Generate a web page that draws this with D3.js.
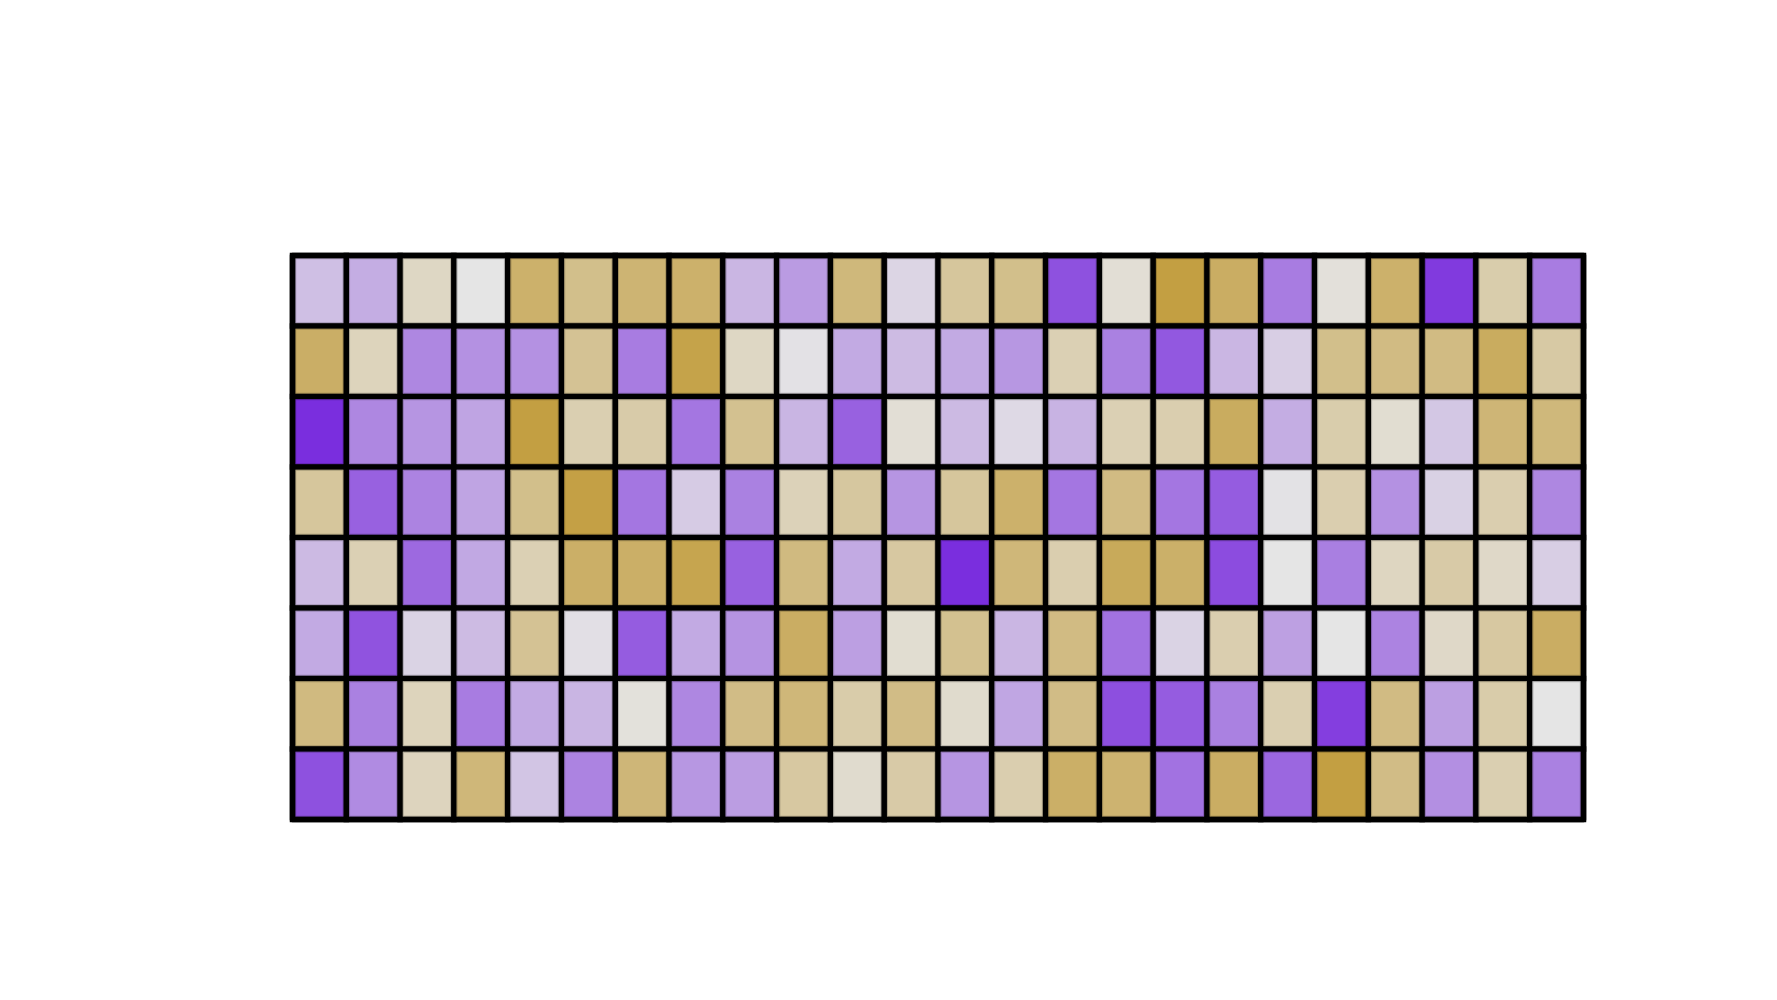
<!DOCTYPE html>
<html>
<head>
<meta charset="utf-8">
<script src="https://cdn.jsdelivr.net/npm/d3@7"></script>
<style>
    html, body { margin: 0; padding: 0; background: #fff; }
    svg { display: block; }
</style>
</head>
<body>
<script>
var columns = d3.range(24),
    rows = d3.range(8);

// one array per row, -1 = deep purple, 0 = neutral grey, +1 = deep gold
var row0 = [-0.30, -0.40, 0.20, 0.00, 0.75, 0.55, 0.70, 0.75, -0.35, -0.50, 0.65, -0.15, 0.45, 0.55, -0.85, 0.10, 1.00, 0.80, -0.65, 0.07, 0.75, -0.95, 0.35, -0.65];
var row1 = [0.78, 0.25, -0.60, -0.55, -0.55, 0.50, -0.65, 0.95, 0.20, -0.05, -0.42, -0.32, -0.42, -0.52, 0.30, -0.63, -0.82, -0.35, -0.20, 0.55, 0.60, 0.60, 0.82, 0.40];
var row2 = [-1.00, -0.60, -0.53, -0.45, 1.00, 0.32, 0.37, -0.68, 0.52, -0.36, -0.78, 0.10, -0.33, -0.12, -0.37, 0.30, 0.33, 0.82, -0.40, 0.35, 0.12, -0.25, 0.68, 0.65];
var row3 = [0.45, -0.78, -0.62, -0.45, 0.55, 0.98, -0.68, -0.22, -0.63, 0.27, 0.43, -0.53, 0.45, 0.75, -0.68, 0.60, -0.68, -0.80, -0.04, 0.33, -0.55, -0.18, 0.33, -0.60];
var row4 = [-0.33, 0.30, -0.74, -0.43, 0.30, 0.77, 0.77, 0.92, -0.78, 0.62, -0.42, 0.42, -1.00, 0.66, 0.33, 0.85, 0.76, -0.87, 0.00, -0.64, 0.22, 0.38, 0.18, -0.20];
var row5 = [-0.42, -0.84, -0.17, -0.32, 0.50, -0.07, -0.80, -0.42, -0.54, 0.80, -0.48, 0.12, 0.52, -0.35, 0.60, -0.70, -0.17, 0.33, -0.47, 0.00, -0.62, 0.18, 0.42, 0.80];
var row6 = [0.62, -0.63, 0.25, -0.65, -0.42, -0.36, 0.06, -0.60, 0.58, 0.66, 0.36, 0.58, 0.15, -0.44, 0.58, -0.86, -0.80, -0.63, 0.32, -0.93, 0.60, -0.48, 0.36, 0.00];
var row7 = [-0.85, -0.58, 0.24, 0.66, -0.26, -0.62, 0.67, -0.52, -0.49, 0.42, 0.14, 0.38, -0.53, 0.33, 0.77, 0.72, -0.70, 0.80, -0.75, 1.00, 0.58, -0.56, 0.32, -0.63];

var values = [row0, row1, row2, row3, row4, row5, row6, row7];

var width = 1777,
    height = 1000,
    gridLeft = 292.5,
    gridRight = 1583.5,
    gridTop = 255.5,
    gridBottom = 819.5;

var toPurple = d3.interpolateRgb("#e5e5e5", "#7a2ede"),
    toGold = d3.interpolateRgb("#e5e5e5", "#c39f42");

var x = d3.scaleBand().domain(columns).range([gridLeft, gridRight]).padding(0),
    y = d3.scaleBand().domain(rows).range([gridTop, gridBottom]).padding(0),
    color = d3.scaleDiverging()
        .domain([-1, 0, 1])
        .interpolator(function (t) {
            // purple half fades in a little slower than the gold half
            return t < 0.5 ? toPurple(Math.pow((0.5 - t) * 2, 1.3)) : toGold((t - 0.5) * 2);
        });

var cells = [];
values.forEach(function (row, r) {
    row.forEach(function (v, c) {
        cells.push({ row: r, col: c, value: v });
    });
});

var svg = d3.select("body").append("svg")
    .attr("width", width)
    .attr("height", height);

var g = svg.append("g");

g.selectAll(".cell")
    .data(cells)
    .enter().append("rect")
    .attr("class", "cell")
    .attr("x", function (d) { return x(d.col); })
    .attr("y", function (d) { return y(d.row); })
    .attr("width", x.bandwidth())
    .attr("height", y.bandwidth())
    .attr("fill", function (d) { return color(d.value); })
    .attr("stroke", "#000")
    .attr("stroke-width", 5.5);

// thin darker edge just inside each black gap
g.selectAll(".edge")
    .data(cells)
    .enter().append("rect")
    .attr("class", "edge")
    .attr("x", function (d) { return x(d.col) + 3.25; })
    .attr("y", function (d) { return y(d.row) + 3.25; })
    .attr("width", x.bandwidth() - 6.5)
    .attr("height", y.bandwidth() - 6.5)
    .attr("fill", "none")
    .attr("stroke", function (d) { return d3.color(color(d.value)).darker(1.2); })
    .attr("stroke-opacity", 0.6)
    .attr("stroke-width", 1);

g.append("rect")
    .attr("x", gridLeft)
    .attr("y", gridTop)
    .attr("width", gridRight - gridLeft)
    .attr("height", gridBottom - gridTop)
    .attr("fill", "none")
    .attr("stroke", "#000")
    .attr("stroke-width", 5.5)
    .attr("stroke-linejoin", "round");
</script>
</body>
</html>
